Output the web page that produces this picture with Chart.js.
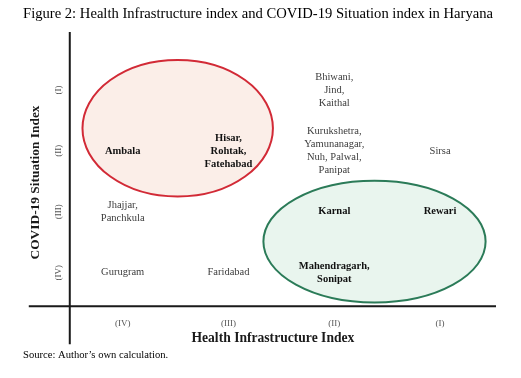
<!DOCTYPE html>
<html>
<head>
<meta charset="utf-8">
<script src="https://cdn.jsdelivr.net/npm/chart.js@4/dist/chart.umd.min.js"></script>
<style>
  html, body { margin: 0; padding: 0; background: #fff; }
  #wrap { width: 521px; height: 378px; position: relative; }
</style>
</head>
<body>
<div id="wrap"><canvas id="chart"></canvas></div>
<script>
// Niveles de los índices (1 = nivel IV ... 4 = nivel I)
const healthLevels = ['(IV)', '(III)', '(II)', '(I)'];
const covidLevels = ['(IV)', '(III)', '(II)', '(I)'];

// Distritos agrupados por celda
const districtLines = [
  ['Ambala'],
  ['Hisar,', 'Rohtak,', 'Fatehabad'],
  ['Bhiwani,', 'Jind,', 'Kaithal'],
  ['Kurukshetra,', 'Yamunanagar,', 'Nuh, Palwal,', 'Panipat'],
  ['Sirsa'],
  ['Jhajjar,', 'Panchkula'],
  ['Karnal'],
  ['Rewari'],
  ['Gurugram'],
  ['Faridabad'],
  ['Mahendragarh,', 'Sonipat'],
];
const healthRank = [1, 2, 3, 3, 4, 1, 3, 4, 1, 2, 3];
const covidRank = [3, 3, 4, 3, 3, 2, 2, 2, 1, 1, 1];
// grupo resaltado: 'red', 'green' o null
const highlightGroup = ['red', 'red', null, null, null, null, 'green', 'green', null, null, 'green'];

const FONT_SERIF = '"Liberation Serif", "Times New Roman", serif';

// Elipses en unidades de datos
const ellipsePlugin = {
  id: 'groupEllipses',
  beforeDatasetsDraw(chart, args, opts) {
    const { ctx, scales: { x, y } } = chart;
    opts.shapes.forEach((s) => {
      const cx = x.getPixelForValue(s.cx);
      const cy = y.getPixelForValue(s.cy);
      const rx = Math.abs(x.getPixelForValue(s.cx + s.rx) - cx);
      const ry = Math.abs(y.getPixelForValue(s.cy + s.ry) - cy);
      ctx.save();
      ctx.beginPath();
      ctx.ellipse(cx, cy, rx, ry, 0, 0, Math.PI * 2);
      ctx.fillStyle = s.fill;
      ctx.fill();
      ctx.lineWidth = 2;
      ctx.strokeStyle = s.stroke;
      ctx.stroke();
      ctx.restore();
    });
  },
};

// Ejes cruzados que se prolongan fuera del área
const crossAxesPlugin = {
  id: 'crossAxes',
  afterDatasetsDraw(chart) {
    const { ctx, chartArea: a } = chart;
    ctx.save();
    ctx.strokeStyle = '#1a1a1a';
    ctx.lineWidth = 2;
    ctx.beginPath();
    ctx.moveTo(a.left, a.top);
    ctx.lineTo(a.left, a.bottom + 38);
    ctx.moveTo(a.left - 41, a.bottom);
    ctx.lineTo(a.right + 3, a.bottom);
    ctx.stroke();
    ctx.restore();
  },
};

// Nombres de distritos centrados en cada punto
const labelsPlugin = {
  id: 'districtLabels',
  afterDatasetsDraw(chart) {
    const { ctx } = chart;
    const meta = chart.getDatasetMeta(0);
    const lh = 13;
    ctx.save();
    ctx.textAlign = 'center';
    ctx.textBaseline = 'middle';
    meta.data.forEach((pt, i) => {
      const lines = districtLines[i];
      const bold = !!highlightGroup[i];
      ctx.font = (bold ? 'bold ' : '') + '10.5px ' + FONT_SERIF;
      ctx.fillStyle = bold ? '#111' : '#3c3c3c';
      const y0 = pt.y - ((lines.length - 1) * lh) / 2;
      lines.forEach((t, k) => ctx.fillText(t, pt.x, y0 + k * lh));
    });
    ctx.restore();
  },
};

const points = districtLines.map((_, i) => ({ x: healthRank[i], y: covidRank[i] }));
const fixedTicks = (scale) => { scale.ticks = [1, 2, 3, 4].map((v) => ({ value: v })); };

new Chart(document.getElementById('chart'), {
  type: 'scatter',
  data: { datasets: [{ data: points, pointRadius: 0, pointHoverRadius: 0 }] },
  options: {
    responsive: true,
    maintainAspectRatio: false,
    animation: false,
    layout: { padding: { left: 23, right: 28, top: 4, bottom: 16 } },
    plugins: {
      legend: { display: false },
      tooltip: { enabled: false },
      title: {
        display: true,
        text: 'Figure 2: Health Infrastructure index and COVID-19 Situation index in Haryana',
        align: 'start',
        color: '#000',
        font: { family: FONT_SERIF, size: 14.7, weight: 'normal' },
        padding: { top: 1, bottom: 9.4 },
      },
      subtitle: {
        display: true,
        position: 'bottom',
        text: 'Source: Author’s own calculation.',
        align: 'start',
        color: '#000',
        font: { family: FONT_SERIF, size: 10.6, weight: 'normal' },
        padding: 0,
      },
      groupEllipses: {
        shapes: [
          { cx: 1.52, cy: 3.37, rx: 0.9, ry: 1.12, fill: '#fbeee8', stroke: '#d22a36' },
          { cx: 3.38, cy: 1.51, rx: 1.05, ry: 1.0, fill: '#e9f5ee', stroke: '#2b7b58' },
        ],
      },
    },
    scales: {
      x: {
        type: 'linear',
        min: 0.5,
        max: 4.5,
        afterBuildTicks: fixedTicks,
        grid: { display: false, drawTicks: false, tickLength: 0 },
        border: { display: false },
        ticks: {
          padding: 11.6,
          color: '#555',
          font: { family: FONT_SERIF, size: 9 },
          callback: (v) => healthLevels[v - 1],
        },
        title: {
          display: true,
          text: 'Health Infrastructure Index\u00a0\u00a0\u00a0\u00a0\u00a0',
          color: '#1a1a1a',
          font: { family: FONT_SERIF, size: 13.6, weight: 'bold' },
          padding: { top: -9.4, bottom: 2.2 },
        },
      },
      y: {
        type: 'linear',
        min: 0.45,
        max: 4.95,
        afterBuildTicks: fixedTicks,
        grid: { display: false, drawTicks: false, tickLength: 0 },
        border: { display: false },
        ticks: {
          padding: 3.5,
          minRotation: 90,
          maxRotation: 90,
          crossAlign: 'center',
          color: '#555',
          font: { family: FONT_SERIF, size: 9 },
          callback: (v) => covidLevels[v - 1],
        },
        title: {
          display: true,
          text: 'COVID-19 Situation Index\u00a0\u00a0\u00a0\u00a0\u00a0\u00a0\u00a0\u00a0',
          color: '#1a1a1a',
          font: { family: FONT_SERIF, size: 13.4, weight: 'bold' },
          padding: { top: 5, bottom: 7.9 },
        },
      },
    },
  },
  plugins: [ellipsePlugin, crossAxesPlugin, labelsPlugin],
});
</script>
</body>
</html>
